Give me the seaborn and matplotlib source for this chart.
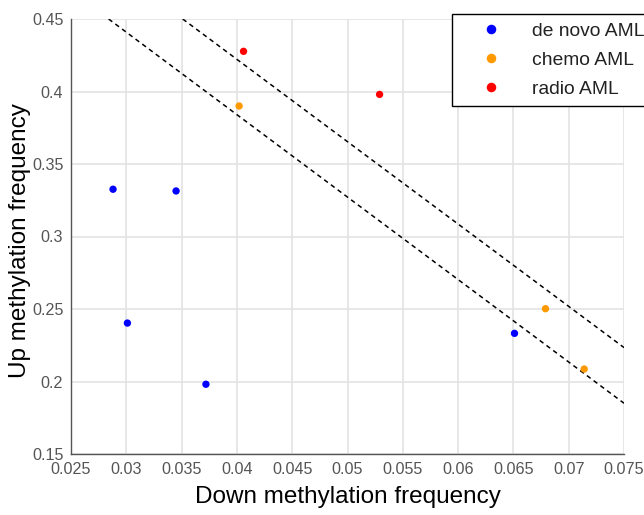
import numpy as np
import pandas as pd
import matplotlib
matplotlib.use("Agg")
import matplotlib.pyplot as plt
import seaborn as sns

# Methylation frequencies per sample
denovo_down = [0.0288, 0.0345, 0.0301, 0.0372, 0.0651]
denovo_up = [0.3326, 0.3314, 0.2403, 0.1981, 0.2332]
chemo_down = [0.0402, 0.0679, 0.0714]
chemo_up = [0.3900, 0.2502, 0.2086]
radio_down = [0.0406, 0.0529]
radio_up = [0.4277, 0.3980]

group_names = ["de novo AML", "chemo AML", "radio AML"]
group_colors = ["#0000FF", "#FF9900", "#FF0000"]

# Two parallel separating boundaries (start/end points)
lower_bound_x = [0.0284, 0.075]
lower_bound_y = [0.45, 0.185]
upper_bound_x = [0.0351, 0.075]
upper_bound_y = [0.45, 0.2234]

x_ticks = [0.025, 0.03, 0.035, 0.04, 0.045, 0.05, 0.055, 0.06, 0.065, 0.07, 0.075]
x_tick_labels = ["0.025", "0.03", "0.035", "0.04", "0.045", "0.05", "0.055", "0.06", "0.065", "0.07", "0.075"]
y_ticks = [0.15, 0.2, 0.25, 0.3, 0.35, 0.4, 0.45]
y_tick_labels = ["0.15", "0.2", "0.25", "0.3", "0.35", "0.4", "0.45"]

df = pd.DataFrame({
    "down": denovo_down + chemo_down + radio_down,
    "up": denovo_up + chemo_up + radio_up,
    "group": [group_names[0]] * len(denovo_down)
    + [group_names[1]] * len(chemo_down)
    + [group_names[2]] * len(radio_down),
})

sns.set_style("white")
plt.rcParams["font.family"] = ["Liberation Sans", "DejaVu Sans"]

fig = plt.figure(figsize=(6.44, 5.15), dpi=100)
ax = fig.add_axes([71 / 644, 1 - 454 / 515, (624 - 71) / 644, (454 - 19) / 515])

# Boundary lines
ax.plot(lower_bound_x, lower_bound_y, color="black", lw=1.1, ls=(0, (3, 2.5)), zorder=2)
ax.plot(upper_bound_x, upper_bound_y, color="black", lw=1.1, ls=(0, (3, 2.5)), zorder=2)

sns.scatterplot(
    data=df, x="down", y="up", hue="group", hue_order=group_names,
    palette=group_colors, s=28, edgecolor="none", linewidth=0, ax=ax, zorder=3,
)

ax.set_xlim(0.025, 0.075)
ax.set_ylim(0.15, 0.45)
ax.set_xticks(x_ticks)
ax.set_xticklabels(x_tick_labels)
ax.set_yticks(y_ticks)
ax.set_yticklabels(y_tick_labels)

ax.grid(True, color="#e3e3e3", lw=1.2)
ax.set_axisbelow(True)
for side in ["top", "right"]:
    ax.spines[side].set_visible(False)
for side in ["left", "bottom"]:
    ax.spines[side].set_color("#555555")
    ax.spines[side].set_linewidth(1.0)

ax.tick_params(axis="both", direction="in", length=4, width=1, color="#555555",
               labelcolor="#555555", labelsize=11.6)
ax.tick_params(axis="x", pad=6)
ax.tick_params(axis="y", pad=5.5)

ax.set_xlabel("Down methylation frequency", fontsize=17.5, color="black", labelpad=6)
ax.set_ylabel("Up methylation frequency", fontsize=17.5, color="black")
ax.yaxis.set_label_coords((31 - 71) / 553, 0.49)

leg = ax.legend(
    loc="upper left", bbox_to_anchor=(452 / 644, 1 - 14 / 515),
    bbox_transform=fig.transFigure, fontsize=13.9, frameon=True, fancybox=False,
    borderpad=0.42, handlelength=3.25, handletextpad=0.45, labelspacing=0.6,
    markerscale=1.3, borderaxespad=0,
)
frame = leg.get_frame()
frame.set_edgecolor("black")
frame.set_linewidth(1.0)
frame.set_facecolor("white")
frame.set_alpha(1)
for t in leg.get_texts():
    t.set_color("#222222")

fig.savefig("out.png", dpi=100)
